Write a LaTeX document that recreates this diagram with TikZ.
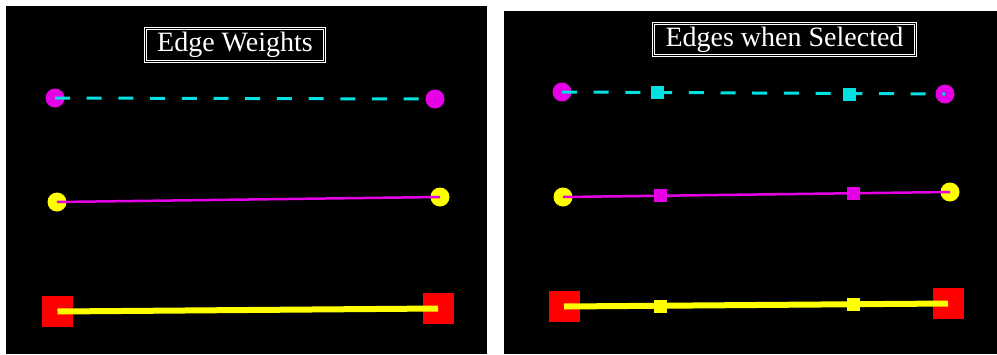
\documentclass[tikz,border=0pt]{standalone}
\usepackage{fontspec}
\setmainfont{Liberation Serif}
\definecolor{mag}{RGB}{230,0,230}
\definecolor{cy}{RGB}{0,225,225}
\definecolor{yel}{RGB}{255,255,0}
\definecolor{rd}{RGB}{255,0,0}
\begin{document}
\begin{tikzpicture}[x=1pt,y=-1pt,
  titlebox/.style={draw=white, line width=0.8pt, double=black, double distance=1.2pt,
    text=white, font=\fontsize{28}{30}\selectfont, inner sep=0pt, minimum height=33pt},
  dot/.style={circle, fill=#1, inner sep=0pt, minimum size=19pt},
  bigsq/.style={rectangle, fill=rd, inner sep=0pt, minimum size=31pt},
  midsq/.style={rectangle, fill=#1, inner sep=0pt, minimum size=13pt},
  dashedge/.style={draw=cy, line width=3pt, dash pattern=on 15pt off 16.7pt},
  thinedge/.style={draw=mag, line width=2.5pt},
  thickedge/.style={draw=yel, line width=6pt}
]
\useasboundingbox (0,0) rectangle (997,354);
\fill[white] (0,0) rectangle (997,354);
\fill[black] (6,6) rectangle (487,354);
\fill[black] (504,11) rectangle (997,354);

% left panel
\node[titlebox, minimum width=179pt] (t1) at (235,45) {Edge Weights};
\node[dot=mag] (a1) at (55,98) {};
\node[dot=mag] (b1) at (435,99) {};
\draw[dashedge] (a1.center) -- (b1.center);
\node[dot=yel] (a2) at (57,202) {};
\node[dot=yel] (b2) at (440,197) {};
\draw[thinedge] (a2.center) -- (b2.center);
\node[bigsq] (a3) at (57.5,311.5) {};
\node[bigsq] (b3) at (438,308.5) {};
\draw[thickedge] (a3.center) -- (b3.center);

% right panel
\node[titlebox, minimum width=262pt, minimum height=32pt] (t2) at (784.5,39.5) {Edges when Selected};
\node[dot=mag] (c1) at (562,92) {};
\node[dot=mag] (d1) at (945,94) {};
\draw[dashedge] (c1.center) -- (d1.center);
\node[midsq=cy] (e1) at (657,92.5) {};
\node[midsq=cy] (f1) at (849,94) {};
\node[dot=yel] (c2) at (563,197) {};
\node[dot=yel] (d2) at (950,192) {};
\draw[thinedge] (c2.center) -- (d2.center);
\node[midsq=mag] (e2) at (660,195.5) {};
\node[midsq=mag] (f2) at (853,193) {};
\node[bigsq] (c3) at (564,306.5) {};
\node[bigsq] (d3) at (948,303.5) {};
\draw[thickedge] (c3.center) -- (d3.center);
\node[midsq=yel] (e3) at (660,306.5) {};
\node[midsq=yel] (f3) at (853,304.5) {};
\end{tikzpicture}
\end{document}
